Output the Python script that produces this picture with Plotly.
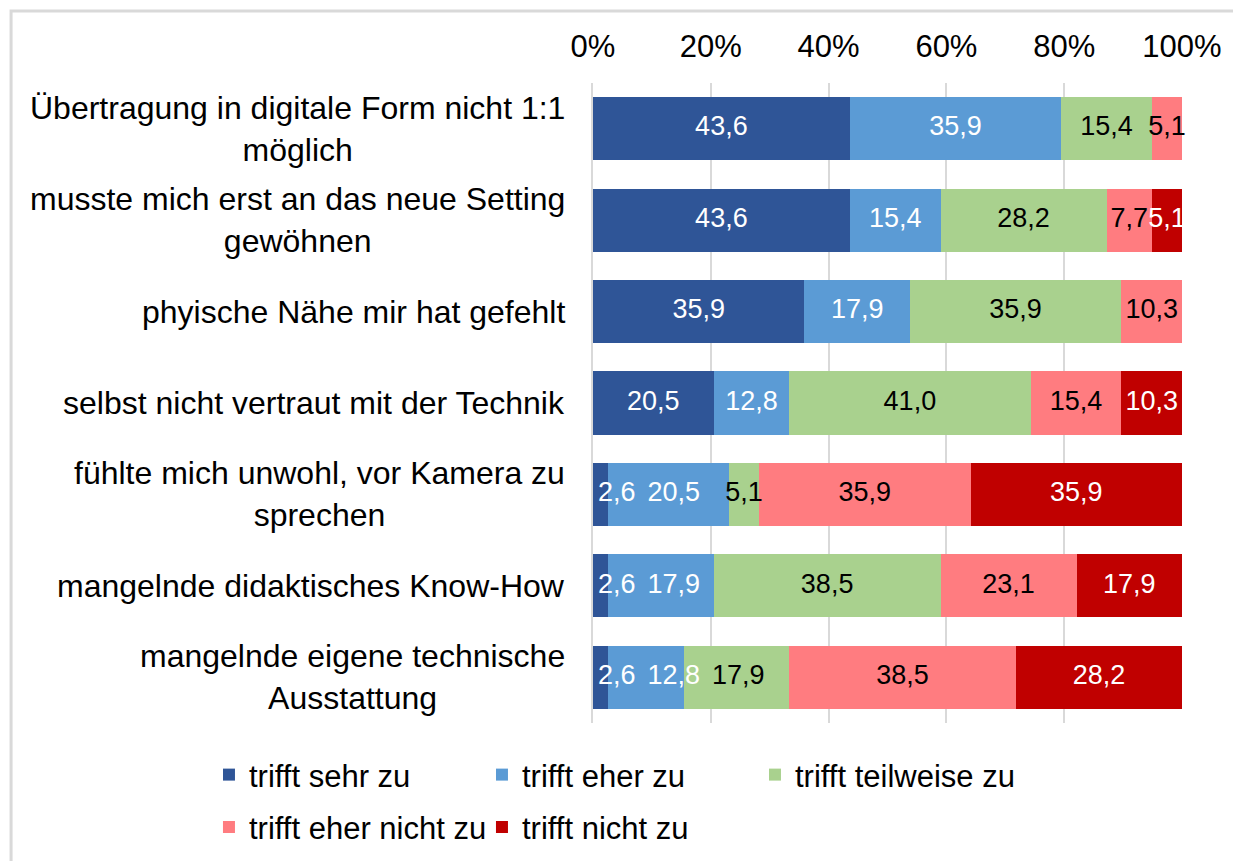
import plotly.graph_objects as go

categories = [
    "Übertragung in digitale Form nicht 1:1<br>möglich",
    "musste mich erst an das neue Setting<br>gewöhnen",
    "phyische Nähe mir hat gefehlt",
    "selbst nicht vertraut mit der Technik",
    "fühlte mich unwohl, vor Kamera zu<br>sprechen",
    "mangelnde didaktisches Know-How",
    "mangelnde eigene technische<br>Ausstattung",
]
series_names = ["trifft sehr zu", "trifft eher zu", "trifft teilweise zu",
                "trifft eher nicht zu", "trifft nicht zu"]
sehr_zu = [43.6, 43.6, 35.9, 20.5, 2.6, 2.6, 2.6]
eher_zu = [35.9, 15.4, 17.9, 12.8, 20.5, 17.9, 12.8]
teilweise_zu = [15.4, 28.2, 35.9, 41.0, 5.1, 38.5, 17.9]
eher_nicht_zu = [5.1, 7.7, 10.3, 15.4, 35.9, 23.1, 38.5]
nicht_zu = [0.0, 5.1, 0.0, 10.3, 35.9, 17.9, 28.2]
tick_vals = [0, 20, 40, 60, 80, 100]
tick_text = ["0%", "20%", "40%", "60%", "80%", "100%"]

values = [sehr_zu, eher_zu, teilweise_zu, eher_nicht_zu, nicht_zu]
colors = ["#2F5597", "#5B9BD5", "#A9D18E", "#FF7C80", "#C00000"]
text_colors = ["white", "white", "black", "black", "white"]
legends = ["legend", "legend", "legend", "legend2", "legend2"]

FONT = "Liberation Sans, Arial, sans-serif"
LABEL_SIZE = 27
PLOT_W = 589.0          # plot area width in px (for label collision avoidance)
PX_PER_UNIT = PLOT_W / 100.0
MIN_GAP_PX = 12
EDGE_PAD_PX = 5


def label_half_width(txt):
    em = sum(0.278 if ch == "," else 0.556 for ch in txt)
    return em * LABEL_SIZE / 2 / PX_PER_UNIT


fig = go.Figure()
for name, vals, col, lg in zip(series_names, values, colors, legends):
    fig.add_trace(go.Bar(
        y=categories, x=vals, name=name, orientation="h",
        marker=dict(color=col, line=dict(width=0)),
        legend=lg, hoverinfo="skip",
    ))

# data labels drawn on top of all bars; small segments overflow like in Excel
cum = [0.0] * len(categories)
prev_right = [None] * len(categories)
for vals, tcol in zip(values, text_colors):
    xs, ys, ts = [], [], []
    for i, v in enumerate(vals):
        if v > 0:
            txt = f"{v:.1f}".replace(".", ",")
            hw = label_half_width(txt)
            natural = cum[i] + v / 2
            pos = max(natural, hw + EDGE_PAD_PX / PX_PER_UNIT)
            if prev_right[i] is not None:
                pos = max(pos, prev_right[i] + MIN_GAP_PX / PX_PER_UNIT + hw)
            cap = 100 - hw
            pos = min(pos, max(natural, cap))
            prev_right[i] = pos + hw
            xs.append(pos)
            ys.append(categories[i])
            ts.append(txt)
        cum[i] += v
    fig.add_trace(go.Scatter(
        x=xs, y=ys, text=ts, mode="text", textposition="middle center",
        textfont=dict(family=FONT, size=LABEL_SIZE, color=tcol),
        showlegend=False, hoverinfo="skip", cliponaxis=False,
    ))

for cat in categories:
    fig.add_annotation(
        x=0, xref="paper", y=cat, yref="y", xanchor="right", yanchor="middle",
        xshift=-26, text=cat, showarrow=False, align="center",
        font=dict(family=FONT, size=32, color="#000000"),
    )

fig.add_shape(type="rect", xref="paper", yref="paper",
              x0=-0.988, x1=1.2, y0=-0.3, y1=1.1125,
              line=dict(color="#D9D9D9", width=3), layer="below")

fig.update_layout(
    width=1241, height=861,
    margin=dict(l=585, r=67, t=75, b=146),
    paper_bgcolor="white", plot_bgcolor="white",
    barmode="stack", bargap=0.31,
    font=dict(family=FONT, color="#000000"),
    xaxis=dict(range=[0, 100], side="top", tickvals=tick_vals, ticktext=tick_text,
               showgrid=True, gridcolor="#D9D9D9", gridwidth=2,
               zeroline=False, showline=False, ticks="",
               ticklabelstandoff=19,
               tickfont=dict(family=FONT, size=31, color="#000000"), fixedrange=True),
    yaxis=dict(autorange="reversed", showticklabels=False, showgrid=False,
               showline=True, linecolor="#D9D9D9", linewidth=2, ticks="", fixedrange=True),
    legend=dict(orientation="h", x=-0.652, xanchor="left", y=-0.039, yanchor="top",
                entrywidth=228, entrywidthmode="pixels", traceorder="normal",
                font=dict(family=FONT, size=31, color="#000000"), itemclick=False),
    legend2=dict(orientation="h", x=-0.652, xanchor="left", y=-0.121, yanchor="top",
                 entrywidth=228, entrywidthmode="pixels", traceorder="normal",
                 font=dict(family=FONT, size=31, color="#000000"), itemclick=False),
    showlegend=True,
)

fig.write_html("out.html")
